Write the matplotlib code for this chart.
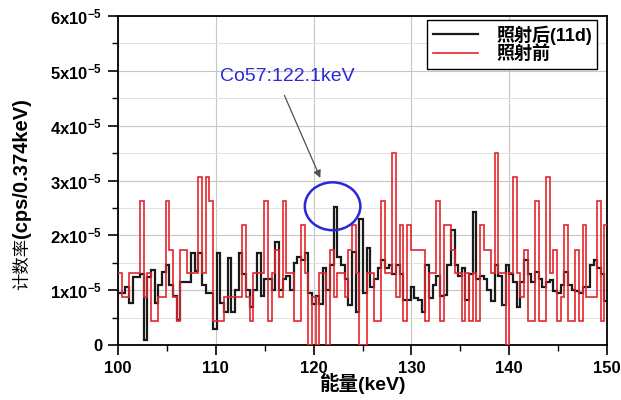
import numpy as np
import matplotlib
matplotlib.use("Agg")
import matplotlib.pyplot as plt
from matplotlib.patches import Ellipse

# ---------------- data (counts rate in units of 1e-5 cps per 0.374 keV bin) ----------------
bin_width = 0.374
e_start = 100.0

after_11d = [  # 照射后(11d), black
    0.94, 0.94, 1.05, 0.76, 1.24, 1.24, 1.30, 0.10, 1.24, 1.36,
    0.76, 1.10, 1.33, 1.45, 1.10, 0.90, 0.45, 1.15, 1.15, 1.15,
    1.67, 1.35, 1.67, 1.10, 0.95, 0.95, 0.30, 1.67, 0.76, 0.60,
    1.58, 0.60, 1.00, 1.67, 1.30, 1.00, 0.70, 1.00, 1.67, 0.90,
    1.20, 1.20, 1.00, 1.88, 1.00, 1.20, 1.25, 1.00, 1.50, 1.60,
    1.55, 1.67, 0.95, 0.75, 0.90, 0.75, 1.40, 1.00, 1.45, 2.51,
    1.60, 1.45, 1.20, 0.73, 1.70, 0.60, 2.30, 0.95, 1.76, 1.05,
    1.20, 1.40, 1.55, 1.40, 1.45, 1.30, 1.45, 1.30, 0.82, 0.82,
    1.05, 0.85, 0.82, 0.60, 1.45, 0.85, 1.10, 1.25, 0.90, 0.92,
    1.45, 2.10, 1.45, 1.25, 1.40, 0.82, 1.30, 2.42, 1.20, 1.25,
    1.20, 1.00, 0.80, 1.45, 1.25, 0.73, 1.45, 1.30, 1.15, 0.70,
    1.15, 1.55, 1.30, 1.15, 1.33, 1.20, 1.06, 1.15, 1.18, 0.98,
    0.95, 1.10, 1.33, 1.10, 1.00, 0.98, 0.95, 1.06, 1.06, 1.45,
    1.55, 1.40, 1.30, 0.80,
]

before = [  # 照射前, red
    1.31, 0.87, 0.87, 1.31, 1.31, 1.31, 2.62, 0.87, 1.31, 0.44,
    0.44, 0.87, 0.87, 2.62, 1.74, 0.87, 0.44, 1.74, 1.74, 1.31,
    1.31, 1.31, 3.06, 1.31, 3.06, 2.62, 0.44, 0.44, 0.44, 0.87,
    0.87, 0.87, 0.87, 0.87, 2.19, 0.87, 0.44, 1.31, 1.31, 1.31,
    2.62, 0.44, 1.31, 1.74, 0.87, 2.62, 1.31, 1.31, 0.44, 0.44,
    2.19, 1.31, 0.00, 0.87, 0.00, 1.31, 1.31, 0.00, 1.74, 0.87,
    1.31, 1.31, 0.87, 1.74, 2.19, 1.31, 0.00, 0.00, 1.31, 1.31,
    0.44, 0.44, 2.62, 1.31, 1.31, 3.50, 0.87, 2.19, 0.44, 2.19,
    1.74, 1.74, 1.74, 1.74, 0.44, 1.31, 1.31, 2.62, 0.44, 2.19,
    2.19, 1.74, 1.31, 1.31, 0.44, 1.31, 0.44, 1.31, 0.44, 2.19,
    1.74, 1.74, 1.31, 3.50, 1.31, 1.31, 0.00, 1.31, 3.06, 1.31,
    0.87, 1.74, 0.44, 0.44, 2.62, 0.44, 0.44, 3.06, 1.31, 1.74,
    0.44, 0.87, 2.19, 0.44, 0.44, 1.74, 0.44, 2.19, 0.87, 0.87,
    0.87, 2.62, 0.44, 2.19,
]

series_labels = ["照射后(11d)", "照射前"]
x_ticks = [100, 110, 120, 130, 140, 150]
y_ticks = [0, 1, 2, 3, 4, 5, 6]
y_tick_labels = ["0"] + [r"$\mathbf{%dx10^{-5}}$" % v for v in y_ticks[1:]]
peak_label = "Co57:122.1keV"

# ---------------- style ----------------
plt.rcParams["font.family"] = ["Liberation Sans", "Noto Sans CJK SC", "DejaVu Sans"]
plt.rcParams["mathtext.fontset"] = "custom"
plt.rcParams["mathtext.bf"] = "Liberation Sans:bold"
plt.rcParams["mathtext.rm"] = "Liberation Sans"

W, H = 621, 400
fig = plt.figure(figsize=(W / 100, H / 100), dpi=100)
L, R, T, B = 118, 607, 16, 345
ax = fig.add_axes([L / W, (H - B) / H, (R - L) / W, (B - T) / H])

edges = e_start + bin_width * np.arange(len(before) + 1)
ax.stairs(np.array(after_11d) * 1e-5, edges, baseline=None, color="#1a1a1a",
          lw=1.6, label=series_labels[0], zorder=3)
ax.stairs(np.array(before) * 1e-5, edges, baseline=None, color="#e4262c",
          lw=1.2, label=series_labels[1], zorder=4)

ax.set_xlim(100, 150)
ax.set_ylim(0, 6e-5)
ax.set_xticks(x_ticks, [str(v) for v in x_ticks], fontweight="bold", fontsize=12)
ax.set_yticks([v * 1e-5 for v in y_ticks], y_tick_labels, fontweight="bold", fontsize=12)
ax.set_xticks(np.arange(105, 150, 10), minor=True)
ax.set_yticks(np.arange(0.5, 6, 1) * 1e-5, minor=True)
ax.tick_params(which="major", direction="out", length=7, width=1.2, pad=4.5, colors="black")
ax.tick_params(which="minor", direction="out", length=4, width=1.0)

ax.set_axisbelow(True)
ax.grid(which="major", color="#c6c6c6", lw=0.8)
ax.yaxis.grid(which="minor", color="#e2e2e2", lw=0.7)
for s in ax.spines.values():
    s.set_linewidth(1.3)
    s.set_color("black")

# peak marker
ax.add_patch(Ellipse((121.94, 2.53e-5), 5.68, 0.873e-5, fill=False,
                     ec="#2828d8", lw=1.8, zorder=5))
ax.annotate("", xy=(120.8, 3.0e-5), xytext=(116.9, 4.6e-5),
            arrowprops=dict(arrowstyle="-|>", color="#505050", lw=0.9,
                            mutation_scale=11), zorder=6)
ax.text(117.3, 4.89e-5, peak_label, color="#2a2ad6", fontsize=14,
        ha="center", va="center")

leg = ax.legend(loc="upper right", bbox_to_anchor=(0.98, 0.988),
                prop={"family": ["Liberation Sans", "Noto Sans CJK SC"],
                      "weight": "bold", "size": 13},
                frameon=True, fancybox=False, framealpha=1, edgecolor="black",
                handlelength=2.5, handletextpad=1.0, borderpad=0.3,
                labelspacing=0.05, borderaxespad=0)
leg.get_frame().set_linewidth(1.0)

# labels
fig.text((L + R) / 2 / W, (H - 383) / H, "能量(keV)", ha="center", va="center",
         fontsize=14, fontweight="bold",
         family=["Liberation Sans", "Noto Sans CJK SC"])

t1 = fig.text(22 / W, (H - 290) / H, "计数率", rotation=90, ha="center",
              va="bottom", fontsize=12.5, family=["Noto Sans CJK SC"])
fig.canvas.draw()
bb = t1.get_window_extent()
fig.text(22 / W, bb.y1 / H, "(cps/0.374keV)", rotation=90, ha="center",
         va="bottom", fontsize=14.5, fontweight="bold", family=["Liberation Sans"])

fig.savefig("out.png", dpi=100, facecolor="white")
